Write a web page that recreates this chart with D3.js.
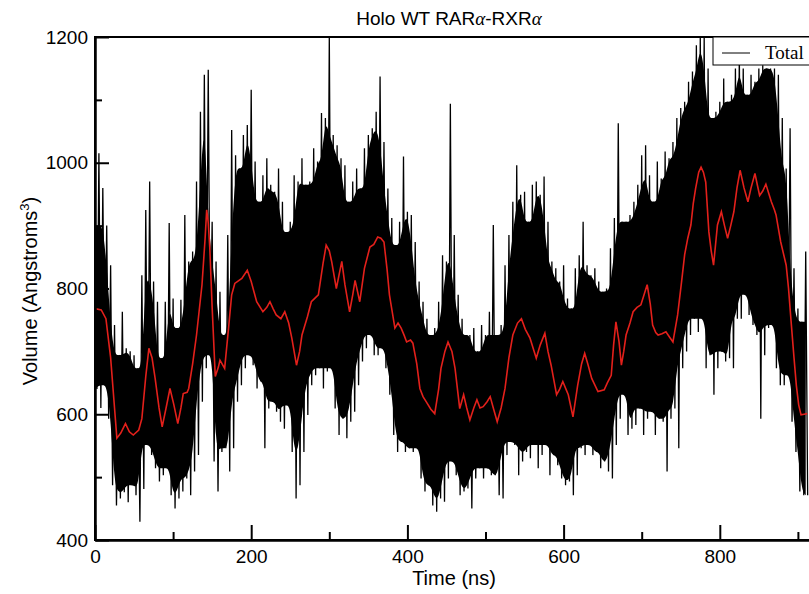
<!DOCTYPE html>
<html>
<head>
<meta charset="utf-8">
<script src="https://cdn.jsdelivr.net/npm/d3@7"></script>
<style>
  body { margin: 0; background: #fff; }
  text { font-family: "Liberation Sans", Arial, sans-serif; }
</style>
</head>
<body>
<div id="chart"></div>
<script>
// sampling step of the raw trace (ns)
var step = 5;

// raw trace, upper and lower excursions in each 5 ns window (Angstroms^3)
var totalHigh = [
  900,1015,960,900,837,742,694,763,705,700,694,673,821,925,970,811,779,689,779,904,
  784,737,782,917,843,859,970,1081,1140,1148,906,843,795,726,885,1052,1012,991,1044,1060,
  1116,1002,938,980,1007,965,954,991,938,890,906,980,970,1007,965,970,1023,1002,1079,1071,
  1200,1044,1028,1007,996,938,970,991,959,1023,1044,1055,1081,1137,1033,959,912,869,906,1010,
  922,917,874,811,779,752,726,737,779,853,843,1094,885,790,752,726,726,737,700,742,
  726,763,901,726,742,837,885,938,996,949,954,906,965,970,949,978,906,843,832,811,
  837,784,768,832,853,906,837,821,832,811,795,800,864,912,1063,906,906,917,938,965,
  1012,1028,980,938,1002,975,1018,1007,1033,1071,1087,1097,1129,1145,1187,1200,1200,1150,1071,1081,
  1097,1134,1097,1108,1150,1171,1150,1108,1140,1129,1150,1155,1150,1150,1150,1140,1071,991,1055,832,
  768,747,859
];
var totalLow = [
  640,610,646,593,487,455,466,476,460,487,471,429,481,551,535,514,493,503,514,471,
  450,466,477,498,471,509,535,620,673,694,525,477,540,546,509,546,620,646,673,694,
  678,641,652,546,609,620,604,588,577,614,540,466,487,540,599,646,662,673,641,668,
  673,609,567,593,562,588,604,646,684,705,726,694,694,705,673,631,567,540,556,540,
  546,540,546,498,477,487,455,445,466,461,498,525,503,471,477,482,450,498,514,498,
  514,503,503,471,466,535,556,551,503,525,540,530,551,514,535,551,503,535,519,498,
  487,493,471,503,546,535,551,535,540,514,525,509,498,551,593,631,567,577,583,609,
  567,593,604,567,593,588,509,593,609,546,673,700,726,752,731,752,673,694,631,673,
  700,684,689,673,752,752,790,758,742,726,593,694,737,742,673,646,646,662,588,540,
  477,471,471
];

// running average (red)
var avgTime = [
  0,8,14,20,25,28,33,39,44,49,56,60,65,69,73,77,82,86,91,96,101,106,110,113,118,120,125,130,137,141,
  143,145,147,150,154,158,160,166,171,175,179,188,195,200,207,215,220,224,228,232,238,243,248,252,258,262,265,272,277,282,
  286,292,296,300,303,309,313,316,320,326,330,333,339,345,352,357,362,366,370,374,377,384,388,392,396,399,404,407,412,416,
  420,424,430,435,440,443,448,452,457,461,467,472,476,480,485,489,493,497,502,506,510,515,520,525,530,535,541,546,551,557,
  561,565,570,576,580,584,591,595,599,603,606,612,618,623,627,631,636,644,652,656,661,664,667,671,674,677,680,685,689,694,
  699,703,707,711,714,718,721,726,731,736,740,746,751,755,759,763,766,769,773,776,779,782,786,789,792,797,802,806,810,814,
  818,822,826,831,836,840,845,848,851,855,859,863,866,870,872,878,885,888,891,895,898,901,904,908,912
];
var avgVolume = [
  768,766,752,690,610,562,570,585,572,567,575,593,660,705,690,657,610,580,610,641,615,585,610,633,635,641,680,726,806,880,
  925,905,864,770,660,675,686,673,737,790,808,816,829,811,779,763,770,779,768,758,752,763,745,721,678,700,726,755,779,785,
  790,840,869,860,843,800,825,843,806,763,790,813,779,832,866,870,882,880,874,830,790,737,745,737,725,715,718,713,680,641,
  628,620,608,601,640,673,700,715,700,673,609,631,610,591,610,623,610,612,620,628,610,588,610,641,690,726,745,752,735,721,
  705,689,710,729,700,678,631,640,652,640,631,596,646,680,697,680,657,636,639,650,662,710,747,715,678,700,726,745,763,770,
  774,790,806,775,742,730,726,728,731,722,715,758,810,854,880,901,935,959,985,993,985,969,890,860,837,901,922,900,880,900,
  922,960,988,960,938,960,983,965,948,955,966,950,938,925,917,874,837,800,752,690,646,615,599,600,601
];

var xTicks = [0, 200, 400, 600, 800];
var xMinor = [100, 300, 500, 700, 900];
var yTicks = [400, 600, 800, 1000, 1200];
var yMinor = [500, 700, 900, 1100];

var W = 809, H = 594;
var margin = {top: 37, left: 95, bottom: 54};
var plotW = 781; // frame runs past the right edge of the page
var plotH = H - margin.top - margin.bottom;

var svg = d3.select("#chart").append("svg")
    .attr("width", W)
    .attr("height", H);

var x = d3.scaleLinear().domain([0, 1000]).range([0, plotW]);
var y = d3.scaleLinear().domain([400, 1200]).range([plotH, 0]);

var g = svg.append("g")
    .attr("transform", "translate(" + margin.left + "," + margin.top + ")");

g.append("clipPath").attr("id", "clip")
  .append("rect").attr("width", plotW).attr("height", plotH);

// solid core of the trace: the part every neighbouring window covers
var core = totalHigh.map(function(v, i) {
  var a = Math.max(0, i - 1), b = Math.min(totalHigh.length, i + 2);
  return {
    t: i * step,
    top: d3.min(totalHigh.slice(a, b)),
    bot: d3.max(totalLow.slice(a, b))
  };
});

g.append("path")
    .datum(core)
    .attr("clip-path", "url(#clip)")
    .attr("d", d3.area()
      .curve(d3.curveBasis)
      .x(function(d) { return x(d.t); })
      .y0(function(d) { return y(d.bot); })
      .y1(function(d) { return y(d.top); }))
    .style("fill", "#000");

// raw trace: each window goes up to its high, then down to its low
var rawPts = [];
totalHigh.forEach(function(v, i) {
  rawPts.push([i * step, v]);
  rawPts.push([i * step + step / 2, totalLow[i]]);
});

var line = d3.line()
    .x(function(d) { return x(d[0]); })
    .y(function(d) { return y(d[1]); });

g.append("path")
    .datum(rawPts)
    .attr("clip-path", "url(#clip)")
    .attr("d", line)
    .style("fill", "none")
    .style("stroke", "#000")
    .style("stroke-width", 1.3);

g.append("path")
    .datum(avgTime.map(function(t, i) { return [t, avgVolume[i]]; }))
    .attr("clip-path", "url(#clip)")
    .attr("d", line)
    .style("fill", "none")
    .style("stroke", "#e3201b")
    .style("stroke-width", 1.6);

//frame
g.append("rect")
    .attr("width", plotW)
    .attr("height", plotH)
    .style("fill", "none")
    .style("stroke", "#000")
    .style("stroke-width", 2);

//axes, ticks point into the plot
g.append("g")
    .attr("transform", "translate(0," + plotH + ")")
    .call(d3.axisBottom(x).tickValues(xTicks).tickFormat(d3.format("d"))
      .tickSizeInner(-15).tickSizeOuter(0).tickPadding(10));
g.append("g")
    .attr("transform", "translate(0," + plotH + ")")
    .call(d3.axisBottom(x).tickValues(xMinor).tickFormat("")
      .tickSizeInner(-8).tickSizeOuter(0));
g.append("g")
    .call(d3.axisLeft(y).tickValues(yTicks).tickFormat(d3.format("d"))
      .tickSizeInner(-14).tickSizeOuter(0).tickPadding(7));
g.append("g")
    .call(d3.axisLeft(y).tickValues(yMinor).tickFormat("")
      .tickSizeInner(-7).tickSizeOuter(0));

g.selectAll(".domain").style("stroke-width", 2);
g.selectAll(".tick line").style("stroke-width", 2);
g.selectAll(".tick text")
    .style("font-size", "19px")
    .style("font-family", "'Liberation Sans', Arial, sans-serif")
    .style("fill", "#000");

//title
var title = svg.append("text")
    .attr("x", 449)
    .attr("y", 25)
    .attr("text-anchor", "middle")
    .style("font-size", "19px");
title.append("tspan").text("Holo WT RAR");
title.append("tspan").style("font-family", "'Liberation Serif', serif").style("font-style", "italic").text("α");
title.append("tspan").text("-RXR");
title.append("tspan").style("font-family", "'Liberation Serif', serif").style("font-style", "italic").text("α");

//axis labels
svg.append("text")
    .attr("x", 454)
    .attr("y", 585)
    .attr("text-anchor", "middle")
    .style("font-size", "20px")
    .text("Time (ns)");

var ylab = svg.append("text")
    .attr("transform", "translate(37,291) rotate(-90)")
    .attr("text-anchor", "middle")
    .style("font-size", "20px");
ylab.append("tspan").text("Volume (Angstroms");
ylab.append("tspan").attr("dy", "-8").style("font-size", "13px").text("3");
ylab.append("tspan").attr("dy", "8").text(")");

//legend
var leg = svg.append("g").attr("transform", "translate(713,37)");
leg.append("rect")
    .attr("width", 140)
    .attr("height", 28)
    .style("fill", "#fff")
    .style("stroke", "#000")
    .style("stroke-width", 1);
leg.append("line")
    .attr("x1", 9).attr("x2", 37)
    .attr("y1", 16).attr("y2", 16)
    .style("stroke", "#000")
    .style("stroke-width", 1);
leg.append("text")
    .attr("x", 52)
    .attr("y", 22)
    .style("font-family", "'Liberation Serif', 'Times New Roman', serif")
    .style("font-size", "19px")
    .text("Total");
</script>
</body>
</html>
